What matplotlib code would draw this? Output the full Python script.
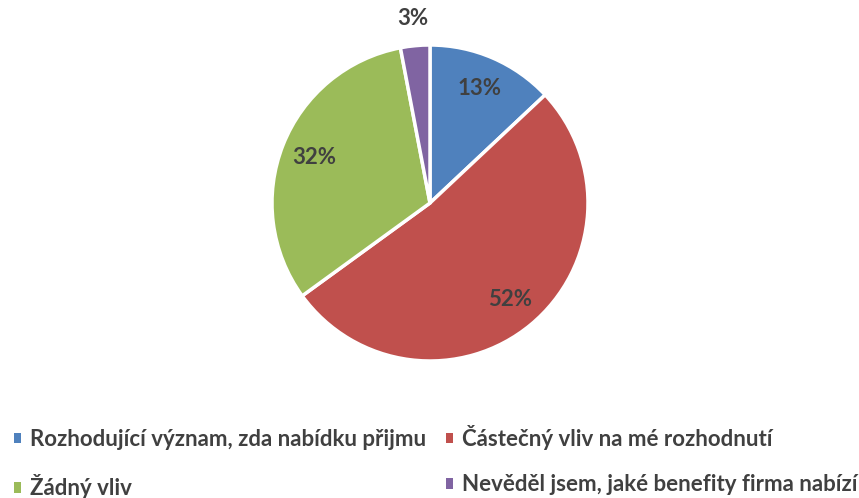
import matplotlib
matplotlib.use("Agg")
import matplotlib.pyplot as plt
from matplotlib.patches import Patch
import numpy as np

categories = ["Rozhodující význam, zda nabídku přijmu",
              "Částečný vliv na mé rozhodnutí",
              "Žádný vliv",
              "Nevěděl jsem, jaké benefity firma nabízí"]
values = [13, 52, 32, 3]
labels = ["13%", "52%", "32%", "3%"]
colors = ["#4F81BD", "#C0504D", "#9BBB59", "#8064A2"]

plt.rcParams['font.family'] = ['Lato', 'DejaVu Sans']

fig = plt.figure(figsize=(8.59, 4.98), dpi=100)
cx, cy, r = 430 / 859, 1 - 203 / 498, 158
w, h = r / 859, r / 498
ax = fig.add_axes([cx - w, cy - h, 2 * w, 2 * h])

wedges, texts = ax.pie(values, colors=colors, startangle=90, counterclock=False,
                       radius=1, wedgeprops=dict(edgecolor="white", linewidth=2.5))
theta = 90.0
for wdg, txt, lab, v in zip(wedges, texts, labels, values):
    mid = theta - v / 100 * 360 / 2
    theta -= v / 100 * 360
    d = 0.79 if v > 5 else 1.17
    ax.text(d * np.cos(np.radians(mid)), d * np.sin(np.radians(mid)), lab,
            ha="center", va="center", fontsize=16, fontweight="bold", color="#404040")
    txt.set_visible(False)
ax.set_xlim(-1, 1)
ax.set_ylim(-1, 1)
ax.set_aspect("equal")
ax.axis("off")

order = [0, 2, 1, 3]
handles = [Patch(facecolor=colors[i], edgecolor="none") for i in order]
leg = fig.legend(handles, [categories[i] for i in order], ncol=2, loc="lower left",
                 bbox_to_anchor=(-0.0075, -0.043), frameon=False,
                 prop=dict(family=['Lato', 'DejaVu Sans'], size=16, weight="bold"),
                 handlelength=0.35, handleheight=0.35, handletextpad=0.4,
                 columnspacing=0.87, labelspacing=1.1, labelcolor="#404040")
fig.savefig("out.png", dpi=100)
